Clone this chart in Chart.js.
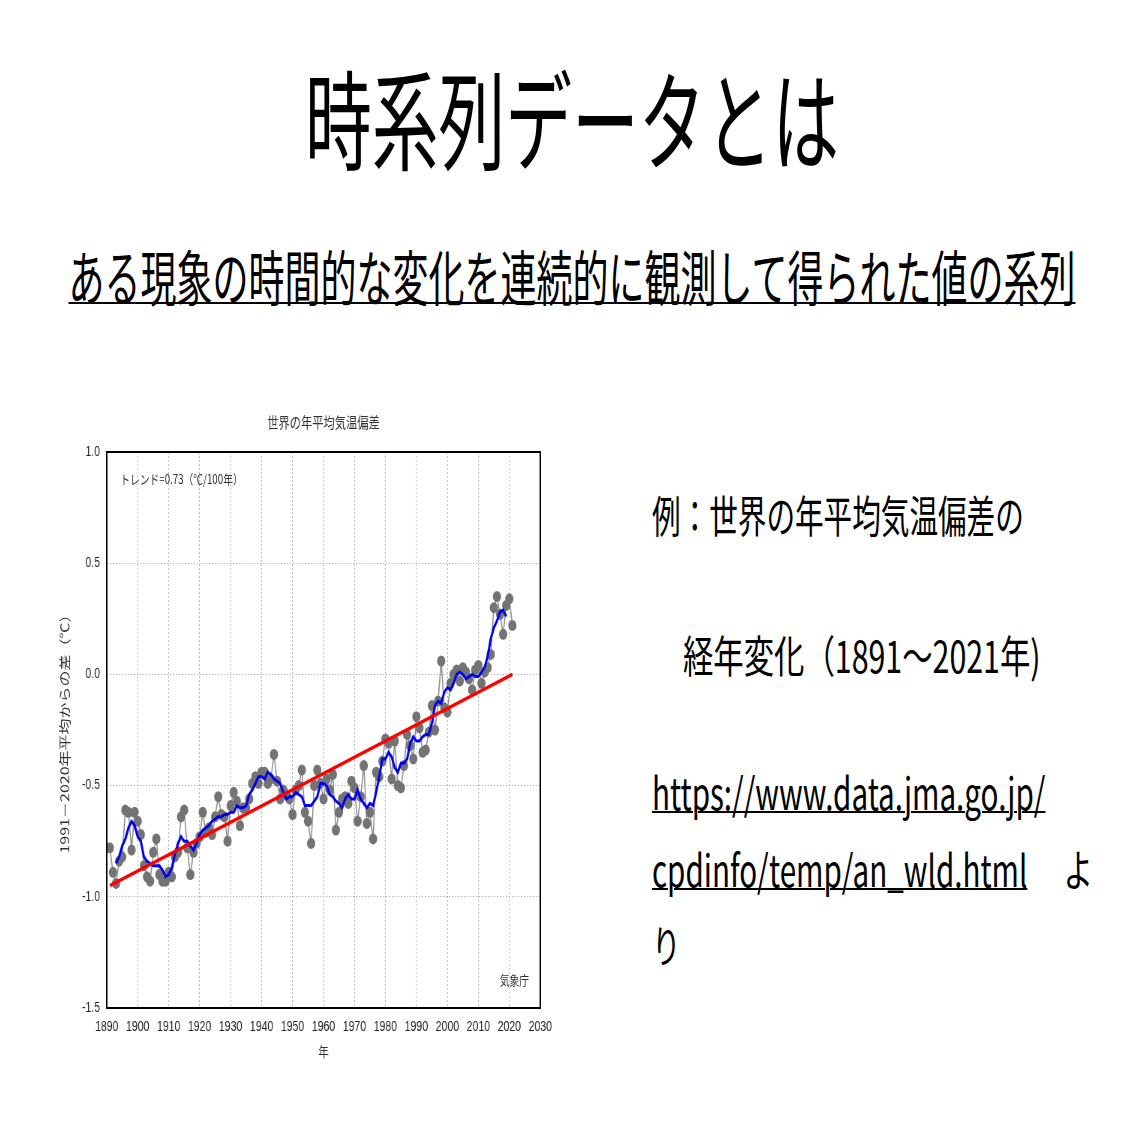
<!DOCTYPE html>
<html lang="ja">
<head>
<meta charset="utf-8">
<title>時系列データとは</title>
<script src="https://cdn.jsdelivr.net/npm/chart.js@4.4.0/dist/chart.umd.min.js"></script>
<style>
  body {
    margin: 0;
    width: 1144px;
    height: 1144px;
    position: relative;
    overflow: hidden;
    background: #fff;
    color: #000;
    font-family: "Noto Sans CJK JP", sans-serif;
  }
  .t {
    position: absolute;
    white-space: nowrap;
    line-height: 1;
    transform-origin: left top;
  }
  .u {
    text-decoration: underline;
    text-decoration-thickness: 2px;
  }
  #chartBox {
    position: absolute;
    left: 40px;
    top: 400px;
    width: 756px;
    height: 670px;
    transform: scaleX(0.75);
    transform-origin: left top;
  }
  .note {
    position: absolute;
    white-space: nowrap;
    line-height: 1;
    font-size: 13px;
    color: #333;
  }
</style>
</head>
<body>

<div class="t" style="left:572px; top:61px; font-size:108px; transform:scaleX(0.618) translateX(-50%);">時系列データとは</div>
<div class="t" style="left:572px; top:245px; font-size:60px; transform:scaleX(0.6) translateX(-50%);"><span class="u">ある現象の時間的な変化を連続的に観測して得られた値の系列</span></div>

<div class="t" style="left:652px; top:492px; font-size:44px; transform:scaleX(0.65);">例：世界の年平均気温偏差の</div>
<div class="t" style="left:683px; top:632px; font-size:44px; transform:scaleX(0.69);">経年変化（1891～2021年)</div>
<div class="t" style="left:652px; top:769px; font-size:44px; transform:scaleX(0.673);"><span class="u">https://www.data.jma.go.jp/</span></div>
<div class="t" style="left:652px; top:846px; font-size:44px; transform:scaleX(0.672);"><span class="u">cpdinfo/temp/an_wld.html</span>　 よ</div>
<div class="t" style="left:652px; top:922px; font-size:44px; transform:scaleX(0.65);">り</div>

<div id="chartBox">
  <canvas id="chart"></canvas>
  <div class="note" style="left:107px; top:72px;">トレンド=0.73（℃/100年）</div>
  <div class="note" style="left:613px; top:573px;">気象庁</div>
</div>

<script>
const years = [
  1891, 1892, 1893, 1894, 1895, 1896, 1897, 1898, 1899, 1900,
  1901, 1902, 1903, 1904, 1905, 1906, 1907, 1908, 1909, 1910,
  1911, 1912, 1913, 1914, 1915, 1916, 1917, 1918, 1919, 1920,
  1921, 1922, 1923, 1924, 1925, 1926, 1927, 1928, 1929, 1930,
  1931, 1932, 1933, 1934, 1935, 1936, 1937, 1938, 1939, 1940,
  1941, 1942, 1943, 1944, 1945, 1946, 1947, 1948, 1949, 1950,
  1951, 1952, 1953, 1954, 1955, 1956, 1957, 1958, 1959, 1960,
  1961, 1962, 1963, 1964, 1965, 1966, 1967, 1968, 1969, 1970,
  1971, 1972, 1973, 1974, 1975, 1976, 1977, 1978, 1979, 1980,
  1981, 1982, 1983, 1984, 1985, 1986, 1987, 1988, 1989, 1990,
  1991, 1992, 1993, 1994, 1995, 1996, 1997, 1998, 1999, 2000,
  2001, 2002, 2003, 2004, 2005, 2006, 2007, 2008, 2009, 2010,
  2011, 2012, 2013, 2014, 2015, 2016, 2017, 2018, 2019, 2020,
  2021
];

// 年平均気温偏差 (℃)
const anomaly = [
  -0.78, -0.89, -0.94, -0.84, -0.82, -0.61, -0.62, -0.79, -0.62, -0.66,
  -0.72, -0.86, -0.91, -0.93, -0.80, -0.74, -0.90, -0.93, -0.93, -0.89,
  -0.91, -0.82, -0.80, -0.64, -0.61, -0.78, -0.90, -0.80, -0.76, -0.73,
  -0.62, -0.71, -0.69, -0.72, -0.64, -0.55, -0.63, -0.64, -0.75, -0.59,
  -0.53, -0.57, -0.68, -0.60, -0.60, -0.56, -0.49, -0.46, -0.49, -0.44,
  -0.44, -0.49, -0.47, -0.36, -0.48, -0.56, -0.52, -0.54, -0.56, -0.63,
  -0.52, -0.50, -0.43, -0.62, -0.66, -0.76, -0.50, -0.43, -0.49, -0.56,
  -0.47, -0.52, -0.45, -0.70, -0.62, -0.56, -0.55, -0.58, -0.48, -0.51,
  -0.66, -0.55, -0.41, -0.67, -0.62, -0.74, -0.44, -0.46, -0.39, -0.29,
  -0.31, -0.47, -0.30, -0.50, -0.51, -0.41, -0.27, -0.32, -0.38, -0.19,
  -0.24, -0.35, -0.34, -0.26, -0.14, -0.25, -0.12, 0.06, -0.15, -0.17,
  -0.04, 0.00, 0.02, -0.03, 0.03, 0.01, -0.02, -0.07, 0.02, 0.04,
  -0.04, 0.01, 0.03, 0.09, 0.30, 0.35, 0.27, 0.18, 0.31, 0.34,
  0.22
];

// 5年移動平均 (1893-2019)
const meanYears = years.slice(2, years.length - 2);
const runningMean = [
                -0.85, -0.82, -0.77, -0.74, -0.69, -0.66, -0.68, -0.73,
  -0.75, -0.82, -0.84, -0.85, -0.86, -0.86, -0.86, -0.88, -0.91, -0.90,
  -0.87, -0.81, -0.76, -0.73, -0.75, -0.75, -0.77, -0.79, -0.76, -0.72,
  -0.70, -0.69, -0.68, -0.66, -0.65, -0.64, -0.64, -0.63, -0.63, -0.62,
  -0.62, -0.59, -0.60, -0.60, -0.59, -0.54, -0.52, -0.49, -0.46, -0.46,
  -0.47, -0.44, -0.45, -0.47, -0.48, -0.49, -0.53, -0.56, -0.55, -0.55,
  -0.53, -0.54, -0.55, -0.59, -0.59, -0.59, -0.57, -0.55, -0.49, -0.49,
  -0.50, -0.54, -0.55, -0.57, -0.58, -0.60, -0.56, -0.54, -0.56, -0.56,
  -0.52, -0.56, -0.58, -0.60, -0.58, -0.59, -0.53, -0.46, -0.38, -0.38,
  -0.35, -0.37, -0.42, -0.44, -0.40, -0.40, -0.38, -0.31, -0.28, -0.30,
  -0.30, -0.28, -0.27, -0.27, -0.22, -0.14, -0.12, -0.13, -0.08, -0.06,
  -0.07, -0.04, 0.00, 0.01, 0.00, -0.02, -0.01, 0.00, -0.01, -0.01,
  0.01, 0.03, 0.08, 0.16, 0.21, 0.24, 0.28, 0.29, 0.26
];

// 長期変化傾向 (0.73℃/100年)
const trendYears = [1891, 2021];
const trendValues = [-0.95, 0.00];

const pairs = (xs, ys) => ys.map((v, i) => ({ x: xs[i], y: v }));

const frame = {
  id: "frame",
  afterDraw(chart) {
    const { ctx, chartArea: a } = chart;
    ctx.save();
    ctx.strokeStyle = "#000";
    ctx.lineWidth = 2;
    ctx.strokeRect(a.left, a.top, a.right - a.left, a.bottom - a.top);
    ctx.restore();
  }
};

const tickFont = { family: "'Liberation Sans', Arial, sans-serif", size: 14 };
const jpFont = "'Noto Sans CJK JP', sans-serif";

new Chart(document.getElementById("chart"), {
  type: "line",
  data: {
    datasets: [
      {
        label: "トレンド",
        data: pairs(trendYears, trendValues),
        borderColor: "#ff0000",
        borderWidth: 3.5,
        pointRadius: 0
      },
      {
        label: "5年移動平均",
        data: pairs(meanYears, runningMean),
        borderColor: "#0000ee",
        borderWidth: 3,
        pointRadius: 0
      },
      {
        label: "年平均",
        data: pairs(years, anomaly),
        borderColor: "#8c8c8c",
        borderWidth: 1.5,
        pointRadius: 5.5,
        pointBackgroundColor: "#737373",
        pointBorderColor: "#737373",
        pointBorderWidth: 0
      }
    ]
  },
  options: {
    responsive: true,
    maintainAspectRatio: false,
    animation: false,
    layout: { padding: { left: 0, right: 89, top: 0, bottom: 0 } },
    plugins: {
      legend: { display: false },
      tooltip: { enabled: false },
      title: {
        display: true,
        fullSize: false,
        text: "世界の年平均気温偏差",
        color: "#333",
        font: { family: jpFont, size: 15, weight: "normal" },
        padding: { top: 13, bottom: 21 }
      }
    },
    scales: {
      x: {
        type: "linear",
        min: 1890,
        max: 2030,
        ticks: {
          stepSize: 10,
          autoSkip: false,
          maxRotation: 0,
          padding: 11,
          color: "#222",
          font: tickFont,
          callback: (v) => String(v)
        },
        grid: { color: "#b5b5b5", drawTicks: false },
        border: { display: false, dash: [2, 2] },
        title: {
          display: true,
          text: "年",
          color: "#333",
          font: { family: jpFont, size: 14 },
          padding: { top: 0, bottom: 10 }
        },
        afterFit(scale) { scale.height = 62; }
      },
      y: {
        min: -1.5,
        max: 1.0,
        ticks: {
          stepSize: 0.5,
          padding: 9,
          color: "#222",
          font: tickFont,
          callback: (v) => v.toFixed(1)
        },
        grid: { color: "#b5b5b5", drawTicks: false },
        border: { display: false, dash: [2, 2] },
        title: {
          display: true,
          text: "1991－2020年平均からの差（℃）",
          color: "#333",
          font: { family: jpFont, size: 16 },
          padding: { top: 23, bottom: 0 }
        },
        afterFit(scale) { scale.width = 89; }
      }
    }
  },
  plugins: [frame]
});
</script>
</body>
</html>
